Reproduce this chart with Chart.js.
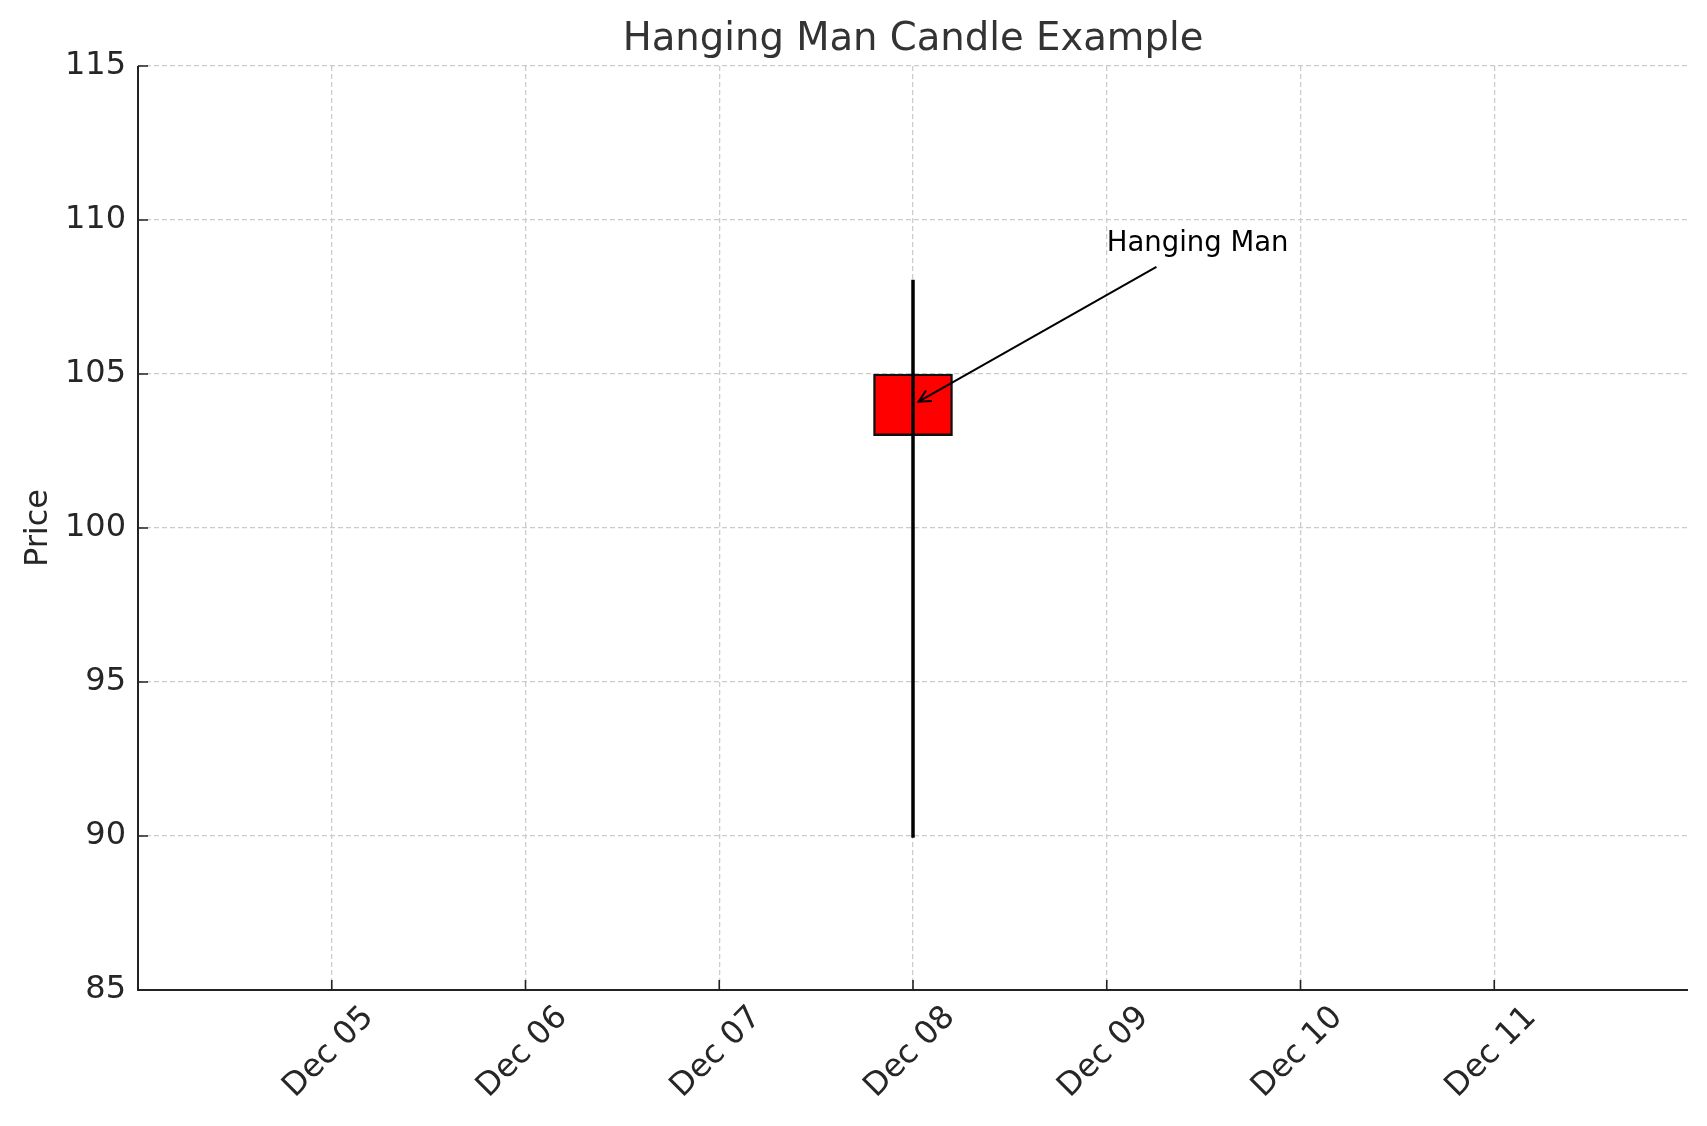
<!DOCTYPE html>
<html>
<head>
<meta charset="utf-8">
<script src="https://cdn.jsdelivr.net/npm/chart.js@4/dist/chart.umd.min.js"></script>
<style>
  html, body { margin: 0; padding: 0; background: #ffffff; }
  #wrap { width: 1707px; height: 1126px; }
</style>
</head>
<body>
<div id="wrap"><canvas id="c" width="1707" height="1126"></canvas></div>
<script>
// ---- data ----
const xDomainDays = [4, 12];               // Dec 04 .. Dec 12
const tickDays = [5, 6, 7, 8, 9, 10, 11];
const tickLabels = ['Dec 05', 'Dec 06', 'Dec 07', 'Dec 08', 'Dec 09', 'Dec 10', 'Dec 11'];
const candleDays = [8];
const openValues = [105];
const highValues = [108];
const lowValues = [90];
const closeValues = [103];
const yTicks = [85, 90, 95, 100, 105, 110, 115];
const annotationText = 'Hanging Man';
const annotationTextAt = [9, 109];   // [day, price]
const annotationPointAt = [8, 104];  // [day, price]

// ---- datasets built from the arrays ----
const bodyData = candleDays.map((d, i) => ({ x: d, y: [closeValues[i], openValues[i]] }));
const wickData = [];
candleDays.forEach((d, i) => {
  wickData.push({ x: d, y: lowValues[i] });
  wickData.push({ x: d, y: highValues[i] });
});

const FONT = 'DejaVu Sans';

const decorPlugin = {
  id: 'decor',
  afterDatasetsDraw(chart) {
    const ctx = chart.ctx;
    const xs = chart.scales.x, ys = chart.scales.y;
    const area = chart.chartArea;
    ctx.save();
    // inward tick marks
    ctx.strokeStyle = '#222222';
    ctx.lineWidth = 1.6;
    ctx.setLineDash([]);
    ctx.beginPath();
    tickDays.forEach(d => {
      const px = xs.getPixelForValue(d);
      ctx.moveTo(px, area.bottom);
      ctx.lineTo(px, area.bottom - 10);
    });
    yTicks.forEach(v => {
      const py = ys.getPixelForValue(v);
      ctx.moveTo(area.left, py);
      ctx.lineTo(area.left + 10, py);
    });
    ctx.stroke();
    // spines
    ctx.lineWidth = 2;
    ctx.beginPath();
    ctx.moveTo(area.left, area.top);
    ctx.lineTo(area.left, area.bottom);
    ctx.lineTo(area.right, area.bottom);
    ctx.stroke();

    // annotation text
    const fs = 27.5;
    ctx.font = fs + 'px "' + FONT + '"';
    ctx.fillStyle = '#000000';
    ctx.textAlign = 'left';
    ctx.textBaseline = 'alphabetic';
    const tx = xs.getPixelForValue(annotationTextAt[0]);
    const ty = ys.getPixelForValue(annotationTextAt[1]);
    ctx.fillText(annotationText, tx, ty);
    const w = ctx.measureText(annotationText).width;
    // arrow
    const pad = 6.4, shrink = 6.4;
    const bx0 = tx - pad, bx1 = tx + w + pad;
    const by0 = ty - 0.76 * fs - pad, by1 = ty + 0.24 * fs + pad;
    const cx = (bx0 + bx1) / 2, cy = (by0 + by1) / 2;
    const px = xs.getPixelForValue(annotationPointAt[0]);
    const py = ys.getPixelForValue(annotationPointAt[1]);
    const dx = px - cx, dy = py - cy;
    const len = Math.hypot(dx, dy);
    const ux = dx / len, uy = dy / len;
    let t = Infinity;
    if (ux !== 0) t = Math.min(t, ((ux > 0 ? bx1 : bx0) - cx) / ux);
    if (uy !== 0) t = Math.min(t, ((uy > 0 ? by1 : by0) - cy) / uy);
    const sx = cx + ux * (t + shrink), sy = cy + uy * (t + shrink);
    const ex = px - ux * shrink, ey = py - uy * shrink;
    ctx.strokeStyle = '#000000';
    ctx.lineWidth = 2;
    ctx.lineCap = 'butt';
    ctx.beginPath();
    ctx.moveTo(sx, sy);
    ctx.lineTo(ex, ey);
    ctx.stroke();
    const hl = 12, hw = 6;
    const nx = -uy, ny = ux;
    ctx.beginPath();
    ctx.moveTo(ex - ux * hl + nx * hw, ey - uy * hl + ny * hw);
    ctx.lineTo(ex, ey);
    ctx.lineTo(ex - ux * hl - nx * hw, ey - uy * hl - ny * hw);
    ctx.stroke();
    ctx.restore();
  }
};

new Chart(document.getElementById('c'), {
  type: 'bar',
  data: {
    datasets: [
      {
        type: 'line',
        label: 'Wick',
        data: wickData,
        borderColor: '#000000',
        borderWidth: 3.5,
        borderCapStyle: 'square',
        pointRadius: 0,
        fill: false,
        order: 0
      },
      {
        type: 'bar',
        label: 'Body',
        data: bodyData,
        backgroundColor: '#ff0000',
        borderColor: '#111111',
        borderWidth: 2.4,
        borderSkipped: false,
        barThickness: 79,
        order: 1
      }
    ]
  },
  options: {
    responsive: false,
    animation: false,
    devicePixelRatio: 1,
    layout: { padding: { left: 10, right: 19, top: 0, bottom: 0 } },
    plugins: {
      legend: { display: false },
      tooltip: { enabled: false },
      title: {
        display: true,
        fullSize: false,
        text: 'Hanging Man Candle Example',
        color: '#333333',
        font: { family: FONT, size: 38.6, weight: 'normal' },
        padding: { top: 17, bottom: 2.7 }
      }
    },
    scales: {
      x: {
        type: 'linear',
        min: xDomainDays[0],
        max: xDomainDays[1],
        offset: false,
        afterBuildTicks(scale) {
          scale.ticks = tickDays.map(v => ({ value: v }));
        },
        afterFit(scale) { scale.height = 136; },
        ticks: {
          stepSize: 1,
          autoSkip: false,
          minRotation: 45,
          maxRotation: 45,
          labelOffset: 37,
          padding: 9,
          color: '#262626',
          font: { family: FONT, size: 32 },
          callback(value) {
            const i = tickDays.indexOf(value);
            return i >= 0 ? tickLabels[i] : '';
          }
        },
        grid: { color: '#cccccc', lineWidth: 1.3, drawTicks: false, offset: false },
        border: { display: false, dash: [5, 3] }
      },
      y: {
        type: 'linear',
        min: yTicks[0],
        max: yTicks[yTicks.length - 1],
        afterBuildTicks(scale) {
          scale.ticks = yTicks.map(v => ({ value: v }));
        },
        afterFit(scale) { scale.width = 128; },
        ticks: {
          padding: 12,
          color: '#262626',
          font: { family: FONT, size: 32 }
        },
        title: {
          display: true,
          text: 'Price',
          color: '#262626',
          font: { family: FONT, size: 32 },
          padding: { top: 9, bottom: 0 }
        },
        grid: { color: '#cccccc', lineWidth: 1.3, drawTicks: false },
        border: { display: false, dash: [5, 3] }
      }
    }
  },
  plugins: [decorPlugin]
});
</script>
</body>
</html>
